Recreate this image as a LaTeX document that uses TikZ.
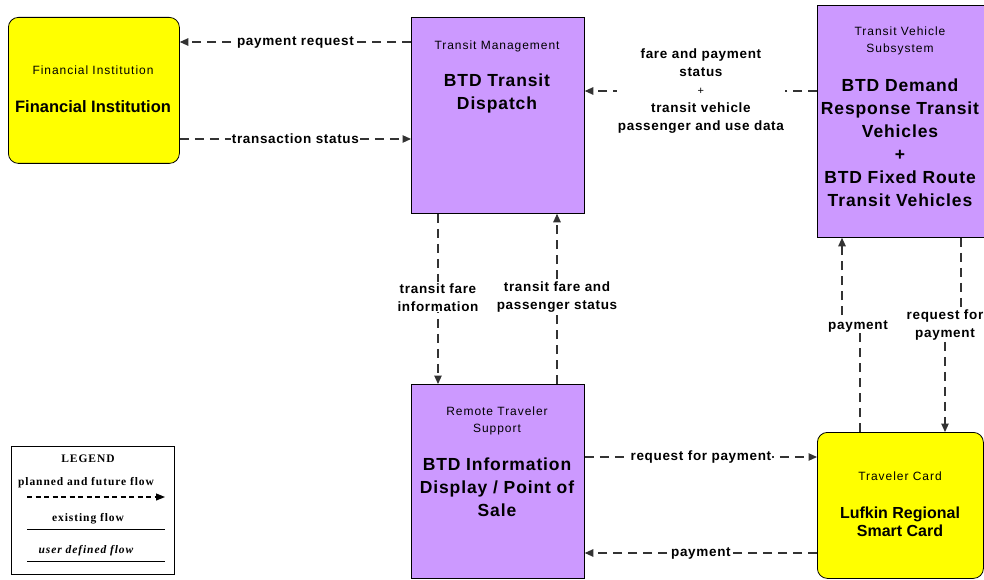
\documentclass[tikz,border=0pt]{standalone}
\usepackage{fontspec}
\setmainfont{Liberation Sans}
\newfontfamily\spsmall[LetterSpace=8]{Liberation Sans}
\newfontfamily\spbold[LetterSpace=5]{Liberation Sans}
\newfontfamily\legfont[LetterSpace=8]{Liberation Serif}
\usetikzlibrary{arrows.meta}
\definecolor{yel}{RGB}{255,255,0}
\definecolor{pur}{RGB}{204,153,255}
\begin{document}
\begin{tikzpicture}[x=1pt,y=-1pt,
 box/.style={draw=black, line width=0.8pt, anchor=north west, inner sep=0pt},
 ybox/.style={box, fill=yel, rounded corners=10pt},
 pbox/.style={box, fill=pur},
 small/.style={font=\spsmall\fontsize{12}{16.5}\selectfont, align=center},
 big/.style={font=\spbold\fontsize{17.5}{23}\selectfont\bfseries, align=center},
 flow/.style={draw=black!80, line width=1.1pt, dash pattern=on 9pt off 6pt, -{Triangle[length=8.5pt,width=7.5pt]}},
 lab/.style={fill=white, inner sep=1pt, font=\spbold\fontsize{13.5}{18}\selectfont\bfseries, align=center},
 leg/.style={font=\legfont\fontsize{11.5}{13}\selectfont\bfseries}]
\useasboundingbox (0,0) rectangle (984,580);
\fill[white] (0,0) rectangle (984,580);

% boxes
\node[ybox, minimum width=171pt, minimum height=146pt] (fi) at (8,17) {};
\node[pbox, minimum width=173pt, minimum height=196pt] (tm) at (411,17) {};
\node[pbox, minimum width=170pt, minimum height=232pt] (tvs) at (817,5) {};
\node[pbox, minimum width=173pt, minimum height=194pt] (rts) at (411,384) {};
\node[ybox, minimum width=166pt, minimum height=146pt] (tc) at (817,432) {};
\node[box, minimum width=163pt, minimum height=128pt] (lg) at (11,446) {};

% box texts
\node[small] (fit) at (93,70) {Financial Institution};
\node[big, font=\fontsize{16.5}{22}\selectfont\bfseries] (fin) at (93,107) {Financial Institution};
\node[small] (tmt) at (497,46) {Transit Management};
\node[big] (tmn) at (497,93) {BTD Transit\\Dispatch};
\node[small] (tvst) at (900,41) {Transit Vehicle\\Subsystem};
\node[big] (tvsn) at (900,143) {BTD Demand\\Response Transit\\Vehicles\\+\\BTD Fixed Route\\Transit Vehicles};
\node[small] (rtst) at (497,421) {Remote Traveler\\Support};
\node[big] (rtsn) at (497,487) {BTD Information\\Display / Point of\\Sale};
\node[small] (tct) at (900,476) {Traveler Card};
\node[big, font=\fontsize{16}{18.5}\selectfont\bfseries] (tcn) at (900,522) {Lufkin Regional\\Smart Card};

% flows
\draw[flow] (tm.west |- 0,42) -- node[lab] (l1) {payment request} (fi.east |- 0,42);
\draw[flow] (fi.east |- 0,139) -- node[lab] (l2) {transaction status} (tm.west |- 0,139);
\draw[flow] (tvs.west |- 0,91) -- node[lab] (l3) {fare and payment\\status\\{\normalfont\fontsize{11}{12}\selectfont +}\\transit vehicle\\passenger and use data} (tm.east |- 0,91);
\draw[flow] (tm.south -| 438,0) -- node[lab, pos=0.49] (l4) {transit fare\\information} (rts.north -| 438,0);
\draw[flow] (rts.north -| 557,0) -- node[lab, pos=0.51] (l5) {transit fare and\\passenger status} (tm.south -| 557,0);
\draw[flow] (tc.north -| 860,0) -- (860,326) -- (842,326) -- (tvs.south -| 842,0);
\node[lab] (l6) at (858,326) {payment};
\draw[flow] (tvs.south -| 961,0) -- (961,326) -- (945,326) -- (tc.north -| 945,0);
\node[lab] (l7) at (945,325) {request for\\payment};
\draw[flow] (rts.east |- 0,457) -- node[lab] (l8) {request for payment} (tc.west |- 0,457);
\draw[flow] (tc.west |- 0,553) -- node[lab] (l9) {payment} (rts.east |- 0,553);

% legend
\node[leg] (lgt) at (88,459) {LEGEND};
\node[leg] (lg1) at (86,483) {planned and future flow};
\coordinate (la) at (27,497);
\coordinate (lb) at (165,497);
\draw[line width=1.1pt, dash pattern=on 5pt off 3.5pt, -{Triangle[length=9pt,width=7pt]}] (la) -- (lb);
\node[leg] (lg2) at (88,519) {existing flow};
\coordinate (lc) at (27,529);
\coordinate (ld) at (165,529);
\draw[line width=0.8pt] (lc) -- (ld);
\node[leg, font=\legfont\fontsize{11.5}{13}\selectfont\bfseries\itshape] (lg3) at (86,551) {user defined flow};
\coordinate (le) at (27,561);
\coordinate (lf) at (165,561);
\draw[line width=0.8pt] (le) -- (lf);
\end{tikzpicture}
\end{document}
